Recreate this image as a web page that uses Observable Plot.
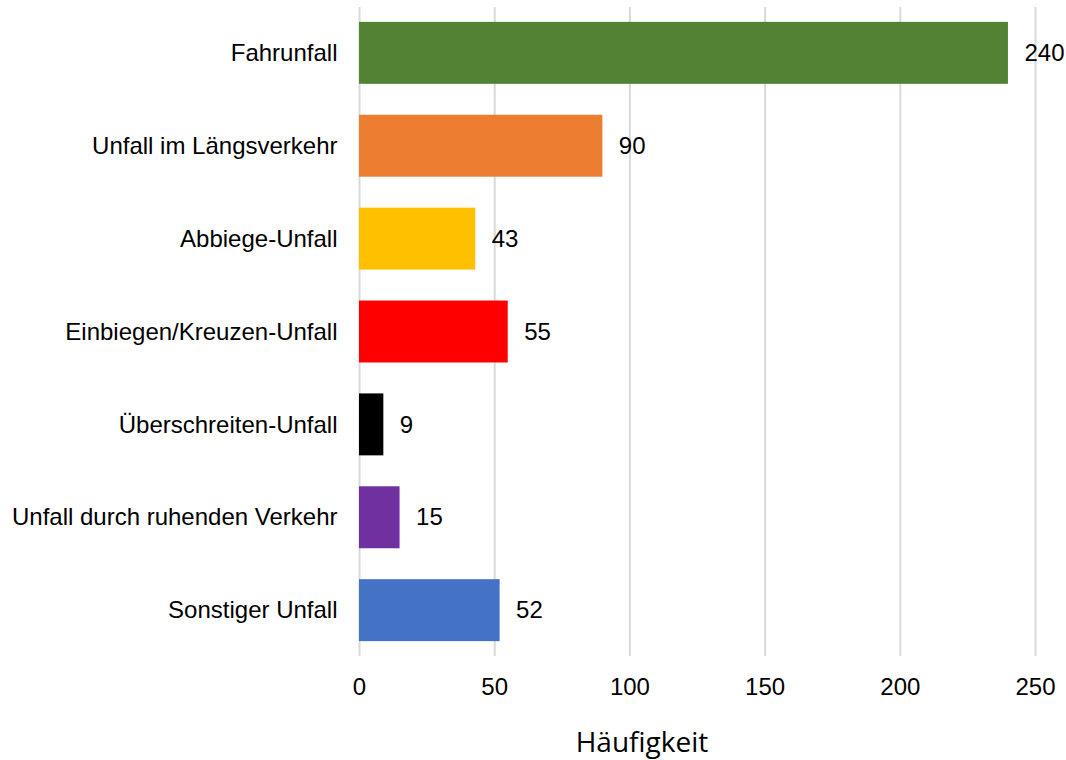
<!DOCTYPE html>
<html>
<head>
<meta charset="utf-8">
<script src="https://cdn.jsdelivr.net/npm/d3@7"></script>
<script src="https://cdn.jsdelivr.net/npm/@observablehq/plot@0.6"></script>
<style>
  body { margin: 0; background: #fff; }
  #wrap { position: relative; width: 1066px; height: 760px; overflow: hidden; }
  #title { position: absolute; left: 492px; width: 300px; top: 727px; text-align: center;
           font-family: "Open Sans", "Noto Sans", sans-serif; font-size: 28px; line-height: 28px; color: #000; }
</style>
</head>
<body>
<div id="wrap">
  <div id="chart"></div>
  <div id="title">Häufigkeit</div>
</div>
<script>
const categories = ["Fahrunfall", "Unfall im Längsverkehr", "Abbiege-Unfall", "Einbiegen/Kreuzen-Unfall", "Überschreiten-Unfall", "Unfall durch ruhenden Verkehr", "Sonstiger Unfall"];
const values = [240, 90, 43, 55, 9, 15, 52];
const colors = ["#548235", "#ED7D31", "#FFC000", "#FF0000", "#000000", "#7030A0", "#4472C4"];
const xTicks = [0, 50, 100, 150, 200, 250];

const data = categories.map((c, i) => ({cat: c, value: values[i]}));

const chart = Plot.plot({
  width: 1066,
  height: 760,
  marginLeft: 359,
  marginRight: 31,
  marginTop: 7,
  marginBottom: 104,
  x: {domain: [0, 250], ticks: xTicks},
  y: {domain: categories, paddingInner: 0.333, paddingOuter: 0.16, round: false},
  color: {domain: categories, range: colors},
  style: {fontFamily: "'Liberation Sans', Arial, sans-serif", fontSize: "24px", color: "#000", background: "#fff"},
  marks: [
    Plot.gridX(xTicks, {stroke: "#d9d9d9", strokeOpacity: 1, strokeWidth: 2}),
    Plot.barX(data, {x: "value", y: "cat", fill: "cat"}),
    Plot.text(data, {x: "value", y: "cat", text: d => String(d.value), dx: 16, textAnchor: "start", fontSize: 24, fill: "#000"}),
    Plot.axisX(xTicks, {tickSize: 0, tickPadding: 21, label: null, fontSize: 24}),
    Plot.axisY({tickSize: 0, tickPadding: 22, label: null, fontSize: 24})
  ]
});
document.getElementById("chart").appendChild(chart);
</script>
</body>
</html>
